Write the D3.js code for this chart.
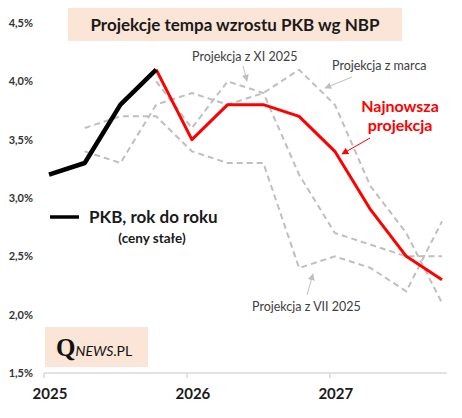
<!DOCTYPE html>
<html>
<head>
<meta charset="utf-8">
<script src="https://cdn.jsdelivr.net/npm/d3@7"></script>
<style>
body { margin:0; background:#fff; }
svg { font-family: Lato, "Open Sans", sans-serif; }
</style>
</head>
<body>
<div id="chart"></div>
<script>
////////////////////////////////////////////////////
// quarters 2025 Q1 .. 2027 Q4
var quarters = ["2025 Q1","2025 Q2","2025 Q3","2025 Q4","2026 Q1","2026 Q2","2026 Q3","2026 Q4","2027 Q1","2027 Q2","2027 Q3","2027 Q4"];
var yearLabels = ["2025","2026","2027"];
var yTicks = [1.5, 2.0, 2.5, 3.0, 3.5, 4.0, 4.5];

var pkbActual  = [3.2, 3.3, 3.8, 4.1, null, null, null, null, null, null, null, null];
var latestProj = [null, null, null, 4.1, 3.5, 3.8, 3.8, 3.7, 3.4, 2.9, 2.5, 2.3];
var projVII    = [null, 3.6, 3.7, 3.7, 3.4, 3.3, 3.3, 2.4, 2.5, 2.4, 2.2, 2.8];
var projXI     = [null, null, null, 4.0, 3.6, 4.0, 3.9, 3.2, 2.7, 2.6, 2.5, 2.5];
var projMarca  = [null, 3.4, 3.3, 3.8, 3.9, 3.8, 3.9, 4.1, 3.8, 3.1, 2.7, 2.1];

////////////////////////////////////////////////////
var totalW = 462;
var totalH = 418;
var peach = "#fbe5d6";
var grey = "#bfbfbf";

var chart = d3.select("#chart").append("svg")
	.attr("width", totalW)
	.attr("height", totalH);

var x = d3.scaleLinear().domain([0, quarters.length-1]).range([49, 442]);
var y = d3.scaleLinear().domain([1.5, 4.5]).range([373, 23]);

var defs = chart.append("defs");
function addHead(id, color) {
	defs.append("marker")
		.attr("id", id)
		.attr("viewBox", "0 0 10 10")
		.attr("refX", 9).attr("refY", 5)
		.attr("markerWidth", 7).attr("markerHeight", 7)
		.attr("orient", "auto")
		.append("path")
		.attr("d", "M0,0 L10,5 L0,10 z")
		.attr("fill", color);
}
addHead("headGrey", grey);
addHead("headRed", "#ff0000");

/////////// TITLE BOX
chart.append("rect")
	.attr("x", 68).attr("y", 8)
	.attr("width", 334).attr("height", 33)
	.attr("fill", peach);
chart.append("text")
	.attr("x", 235).attr("y", 31)
	.attr("text-anchor", "middle")
	.attr("font-size", 17)
	.attr("font-weight", "bold")
	.attr("fill", "#1a1a1a")
	.text("Projekcje tempa wzrostu PKB wg NBP");

/////////// AXES
chart.selectAll("text.ylab")
	.data(yTicks)
	.enter().append("text")
		.attr("class", "ylab")
		.attr("x", 33)
		.attr("y", function(d){ return y(d) + 4; })
		.attr("text-anchor", "end")
		.attr("font-size", 11)
		.attr("font-weight", "bold")
		.attr("fill", "#333")
		.text(function(d){ return d.toFixed(1).replace(".", ",") + "%"; });

chart.append("line")
	.attr("x1", x(-0.14)).attr("x2", x(11.14))
	.attr("y1", y(1.5)).attr("y2", y(1.5))
	.attr("stroke", "#d9d9d9").attr("stroke-width", 1.5);

chart.selectAll("line.xtick")
	.data(yearLabels)
	.enter().append("line")
		.attr("class", "xtick")
		.attr("x1", function(d,i){ return x(i*4 - 0.14); })
		.attr("x2", function(d,i){ return x(i*4 - 0.14); })
		.attr("y1", y(1.5)).attr("y2", y(1.5) + 5)
		.attr("stroke", "#d9d9d9").attr("stroke-width", 1.5);

chart.selectAll("text.xlab")
	.data(yearLabels)
	.enter().append("text")
		.attr("class", "xlab")
		.attr("x", function(d,i){ return x(i*4) + 1; })
		.attr("y", 399)
		.attr("text-anchor", "middle")
		.attr("font-size", 15)
		.attr("font-weight", "bold")
		.attr("fill", "#1a1a1a")
		.text(function(d){ return d; });

/////////// LINES
var line = d3.line()
	.defined(function(d){ return d != null; })
	.x(function(d,i){ return x(i); })
	.y(function(d){ return y(d); });

[projVII, projXI, projMarca].forEach(function(s) {
	chart.append("path")
		.attr("d", line(s))
		.attr("fill", "none")
		.attr("stroke", grey)
		.attr("stroke-width", 2)
		.attr("stroke-dasharray", "6,4");
});

chart.append("path")
	.attr("d", line(latestProj))
	.attr("fill", "none")
	.attr("stroke", "#ff0000")
	.attr("stroke-width", 3)
	.attr("stroke-linejoin", "round");

chart.append("path")
	.attr("d", line(pkbActual))
	.attr("fill", "none")
	.attr("stroke", "#000")
	.attr("stroke-width", 4.5)
	.attr("stroke-linejoin", "round");

/////////// ANNOTATIONS
function note(txt, tx, ty, x1, y1, x2, y2) {
	chart.append("text")
		.attr("x", tx).attr("y", ty)
		.attr("font-size", 12.5)
		.attr("fill", "#404040")
		.text(txt);
	chart.append("line")
		.attr("x1", x1).attr("y1", y1)
		.attr("x2", x2).attr("y2", y2)
		.attr("stroke", grey).attr("stroke-width", 1)
		.attr("marker-end", "url(#headGrey)");
}
note("Projekcja z XI 2025", 192, 61, 243, 66, 247, 81);
note("Projekcja z marca", 332, 70, 352, 77, 325, 88);
note("Projekcja z VII 2025", 252, 311, 307, 295, 313, 274);

chart.append("text")
	.attr("x", 400).attr("y", 112)
	.attr("text-anchor", "middle")
	.attr("font-size", 16).attr("font-weight", "bold")
	.attr("fill", "#ff0000")
	.text("Najnowsza");
chart.append("text")
	.attr("x", 400).attr("y", 131)
	.attr("text-anchor", "middle")
	.attr("font-size", 16).attr("font-weight", "bold")
	.attr("fill", "#ff0000")
	.text("projekcja");
chart.append("line")
	.attr("x1", 370).attr("y1", 138)
	.attr("x2", 342).attr("y2", 154)
	.attr("stroke", "#ff0000").attr("stroke-width", 1)
	.attr("marker-end", "url(#headRed)");

/////////// LEGEND
chart.append("line")
	.attr("x1", 50).attr("x2", 79)
	.attr("y1", 217).attr("y2", 217)
	.attr("stroke", "#000").attr("stroke-width", 3.5);
chart.append("text")
	.attr("x", 89).attr("y", 223)
	.attr("font-size", 17).attr("font-weight", "bold")
	.attr("fill", "#1a1a1a")
	.text("PKB, rok do roku");
chart.append("text")
	.attr("x", 152).attr("y", 243)
	.attr("text-anchor", "middle")
	.attr("font-size", 13.5).attr("font-weight", "bold")
	.attr("fill", "#1a1a1a")
	.text("(ceny stałe)");

/////////// LOGO
chart.append("rect")
	.attr("x", 45).attr("y", 327)
	.attr("width", 103).attr("height", 40)
	.attr("fill", peach);
var logo = chart.append("text")
	.attr("x", 56).attr("y", 356)
	.attr("fill", "#111");
logo.append("tspan")
	.attr("font-family", "'Liberation Serif', serif")
	.attr("font-size", 25).attr("font-weight", "bold")
	.text("Q");
logo.append("tspan")
	.attr("font-size", 14).attr("font-style", "italic")
	.text("NEWS");
logo.append("tspan")
	.attr("font-size", 14)
	.text(".PL");
////////////////////////////////////////////////////
</script>
</body>
</html>
